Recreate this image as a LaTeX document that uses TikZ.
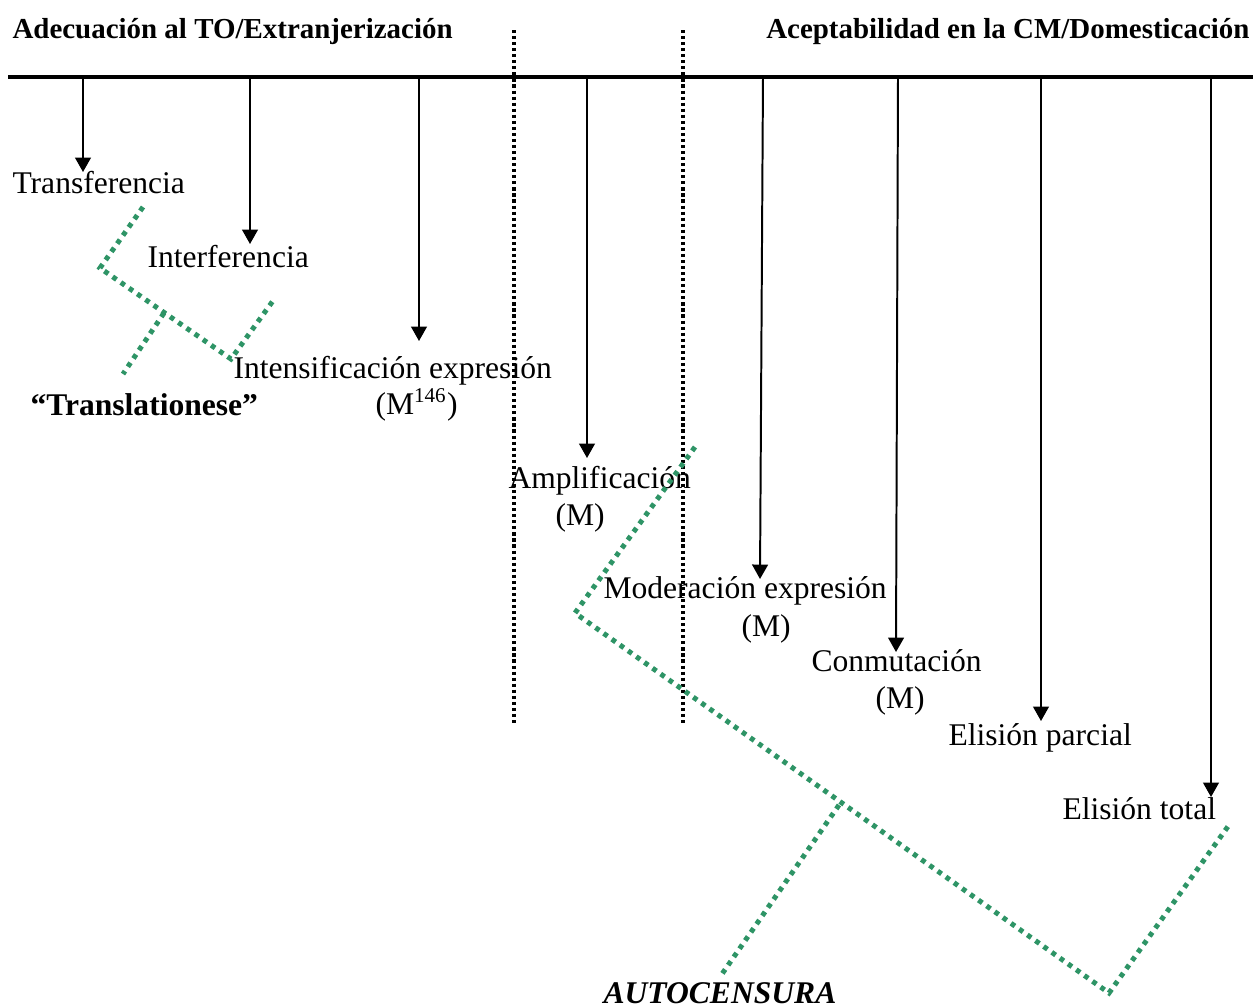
\documentclass[tikz,border=0pt]{standalone}
\usepackage{fontspec}
\setmainfont{Liberation Serif}
\usetikzlibrary{arrows.meta}

\definecolor{verdecorchete}{RGB}{46,148,102}

\tikzset{
  flecha/.style = {line width=0.75pt, -{Triangle[length=5.5pt,width=6pt]}},
  frontera/.style = {line width=1.35pt, dash pattern=on 1.2pt off 1.1pt},
  corchete/.style = {verdecorchete, line width=1.9pt, dash pattern=on 1.8pt off 2.0pt},
  rotulo/.style = {inner sep=0pt, anchor=base west, font=\fontsize{12}{14}\selectfont},
  titulo/.style = {inner sep=0pt, font=\fontsize{11}{13}\selectfont\bfseries}
}

\begin{document}
\begin{tikzpicture}[x=0.38pt, y=-0.38pt]
        \useasboundingbox (0,0) rectangle (1253,1006);

        % titulos y eje
        \node [titulo, anchor=base west] (extr) at (12,38) {Adecuación al TO/Extranjerización};
        \node [titulo, anchor=base east] (dome) at (1250,38) {Aceptabilidad en la CM/Domesticación};
        \draw [line width=1.2pt] (8,77) -- (1253,77);

        \draw [frontera] (514,30) -- (514,725);
        \draw [frontera] (683,30) -- (683,725);

        % puntos de partida y llegada
        \coordinate (s1) at (83,77);    \coordinate (e1) at (83,172);
        \coordinate (s2) at (250,77);   \coordinate (e2) at (250,244);
        \coordinate (s3) at (419,77);   \coordinate (e3) at (419,341);
        \coordinate (s4) at (587,77);   \coordinate (e4) at (587,458);
        \coordinate (s5) at (763,77);   \coordinate (e5) at (760,579);
        \coordinate (s6) at (898,77);   \coordinate (e6) at (896,652);
        \coordinate (s7) at (1041,77);  \coordinate (e7) at (1041,721);
        \coordinate (s8) at (1211,77);  \coordinate (e8) at (1211,797);

        \draw [flecha] (s1) -- (e1);
        \draw [flecha] (s2) -- (e2);
        \draw [flecha] (s3) -- (e3);
        \draw [flecha] (s4) -- (e4);
        \draw [flecha] (s5) -- (e5);
        \draw [flecha] (s6) -- (e6);
        \draw [flecha] (s7) -- (e7);
        \draw [flecha] (s8) -- (e8);

        % procedimientos
        \node [rotulo] (transf) at (12,193) {Transferencia};
        \node [rotulo] (interf) at (147,267) {Interferencia};
        \node [rotulo] (intens) at (233,378) {Intensificación expresión};
        \node [rotulo] (intensm) at (375,414) {(M\textsuperscript{146})};
        \node [rotulo] (ampli) at (508,488) {Amplificación};
        \node [rotulo] (amplim) at (555,525) {(M)};
        \node [rotulo] (moder) at (603,598) {Moderación expresión};
        \node [rotulo] (moderm) at (741,636) {(M)};
        \node [rotulo] (conmu) at (811,671) {Conmutación};
        \node [rotulo] (conmum) at (875,708) {(M)};
        \node [rotulo] (elparc) at (948,745) {Elisión parcial};
        \node [rotulo] (eltot) at (1062,819) {Elisión total};

        % corchetes
        \coordinate (tr1) at (143,207);
        \coordinate (tr2) at (100,268);
        \coordinate (tr3) at (231,359);
        \coordinate (tr4) at (275,298);
        \coordinate (trj) at (164,313);
        \coordinate (trp) at (123,374);
        \draw [corchete] (tr1) -- (tr2) -- (tr3) -- (tr4);
        \draw [corchete] (trj) -- (trp);
        \node [rotulo, font=\fontsize{12}{14}\selectfont\bfseries] (transl) at (30,415) {“Translationese”};

        \coordinate (au1) at (695,447);
        \coordinate (au2) at (575,613);
        \coordinate (au3) at (1109,993);
        \coordinate (au4) at (1229,825);
        \coordinate (auj) at (839,805);
        \coordinate (aup) at (722,974);
        \draw [corchete] (au1) -- (au2) -- (au3) -- (au4);
        \draw [corchete] (auj) -- (aup);
        \node [rotulo, font=\fontsize{12}{14}\selectfont\bfseries\itshape] (autoc) at (603,1003) {AUTOCENSURA};

\end{tikzpicture}
\end{document}
